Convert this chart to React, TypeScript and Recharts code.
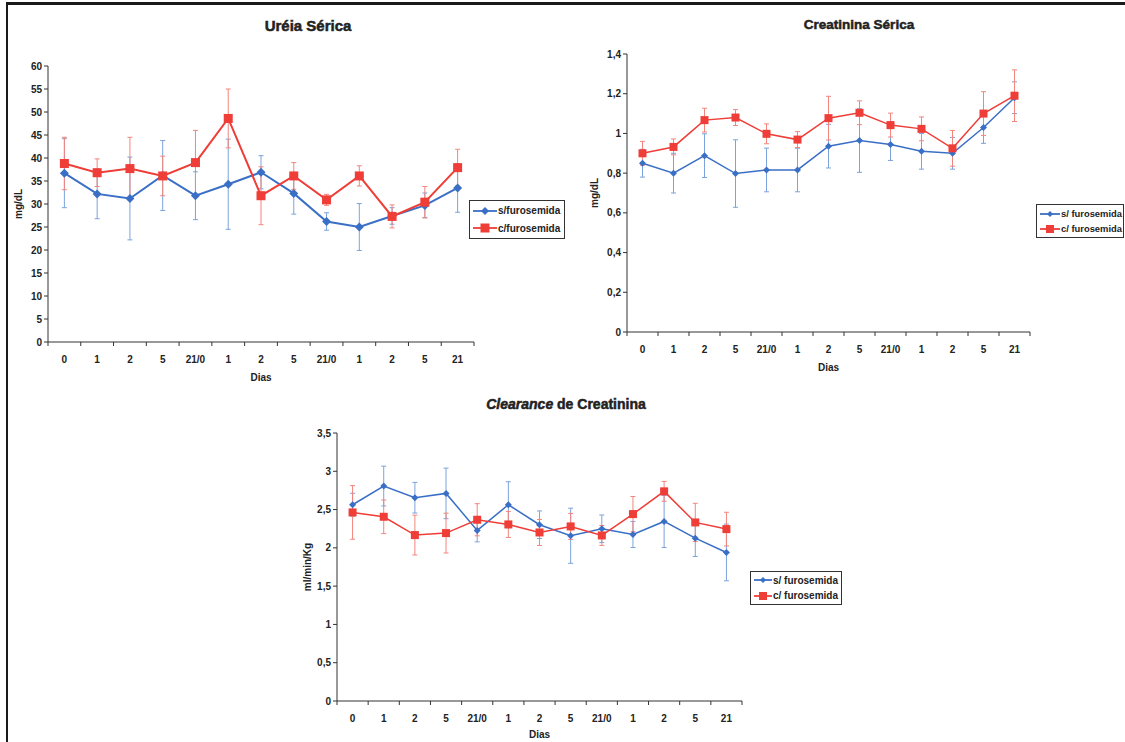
import React from "react";
import { LineChart, Line, XAxis, YAxis, ErrorBar, Legend } from "recharts";

const dias = ["0", "1", "2", "5", "21/0", "1", "2", "5", "21/0", "1", "2", "5", "21"];

// Uréia sérica (mg/dL)
const ureiaSem = [36.7, 32.2, 31.2, 36.2, 31.8, 34.3, 36.9, 32.3, 26.2, 25.0, 27.4, 29.7, 33.5];
const ureiaSemErr = [7.5, 5.4, 9.0, 7.6, 5.2, 9.8, 3.6, 4.5, 1.9, 5.1, 1.8, 2.7, 5.3];
const ureiaCom = [38.8, 36.8, 37.7, 36.1, 39.0, 48.6, 31.8, 36.1, 30.9, 36.1, 27.3, 30.4, 37.9];
const ureiaComErr = [5.7, 3.0, 6.8, 4.3, 7.0, 6.4, 6.3, 2.9, 1.2, 2.2, 2.5, 3.4, 4.0];
const ureiaTicks = [0, 5, 10, 15, 20, 25, 30, 35, 40, 45, 50, 55, 60];

// Creatinina sérica (mg/dL)
const creatSem = [0.85, 0.8, 0.888, 0.798, 0.816, 0.816, 0.936, 0.964, 0.944, 0.91, 0.9, 1.03, 1.18];
const creatSemErr = [0.07, 0.1, 0.11, 0.17, 0.11, 0.11, 0.11, 0.16, 0.08, 0.09, 0.08, 0.08, 0.08];
const creatCom = [0.9, 0.932, 1.067, 1.08, 0.998, 0.969, 1.077, 1.104, 1.042, 1.023, 0.925, 1.1, 1.19];
const creatComErr = [0.06, 0.04, 0.06, 0.04, 0.05, 0.04, 0.11, 0.06, 0.06, 0.06, 0.09, 0.11, 0.13];
const creatTicks = [0, 0.2, 0.4, 0.6, 0.8, 1, 1.2, 1.4];

// Clearance de creatinina (ml/min/Kg)
const clearSem = [2.563, 2.807, 2.655, 2.711, 2.228, 2.563, 2.302, 2.158, 2.249, 2.175, 2.345, 2.127, 1.94];
const clearSemErr = [0.15, 0.26, 0.2, 0.33, 0.15, 0.3, 0.18, 0.36, 0.18, 0.17, 0.34, 0.24, 0.37];
const clearCom = [2.463, 2.406, 2.167, 2.193, 2.367, 2.306, 2.201, 2.28, 2.162, 2.441, 2.738, 2.332, 2.245];
const clearComErr = [0.35, 0.22, 0.26, 0.26, 0.21, 0.17, 0.17, 0.17, 0.13, 0.23, 0.13, 0.25, 0.22];
const clearTicks = [0, 0.5, 1, 1.5, 2, 2.5, 3, 3.5];

const FONT = '"Liberation Sans", Arial, Helvetica, sans-serif';
const BLUE = "#3a6fc6";
const RED = "#ef3d37";
const BLUE_ERR = "#7ba3dc";
const RED_ERR = "#f3857c";
const INK = "#222";

const buildRows = (s: number[], sErr: number[], c: number[], cErr: number[]) =>
  dias.map((dia, i) => ({ dia, s: s[i], sErr: sErr[i], c: c[i], cErr: cErr[i] }));

const fmt = (v: number) => String(v).replace(".", ",");

const diamondPath = (cx: number, cy: number, r: number) =>
  `M${cx},${cy - r} L${cx + r},${cy} L${cx},${cy + r} L${cx - r},${cy} Z`;

function XTick(props: any) {
  const { x, y, payload, index, half, count } = props;
  return (
    <g>
      <line x1={x - half} y1={y} x2={x - half} y2={y + 4} stroke="#333" />
      {index === count - 1 && <line x1={x + half} y1={y} x2={x + half} y2={y + 4} stroke="#333" />}
      <text
        x={x}
        y={y + 17}
        textAnchor="middle"
        dominantBaseline="central"
        fontSize={10}
        fontWeight="bold"
        fill={INK}
        fontFamily={FONT}
      >
        {payload.value}
      </text>
    </g>
  );
}

function YLabel(props: any) {
  const { text, lx, ly } = props;
  return (
    <text
      x={lx}
      y={ly}
      transform={`rotate(-90 ${lx} ${ly})`}
      textAnchor="middle"
      dominantBaseline="central"
      fontSize={10}
      fontWeight="bold"
      fill={INK}
      fontFamily={FONT}
    >
      {text}
    </text>
  );
}

type LegendCfg = {
  sLabel: string;
  cLabel: string;
  rowH: number;
  iconW: number;
  padTop: number;
  padLeft: number;
  padRight: number;
  dR: number;
  sq: number;
  fontSize: number;
};

function LegendBox({ cfg }: { cfg: LegendCfg }) {
  const items = [
    { label: cfg.sLabel, color: BLUE, shape: "d" },
    { label: cfg.cLabel, color: RED, shape: "s" },
  ];
  return (
    <div
      style={{
        border: "1.5px solid #333",
        background: "#fff",
        padding: `${cfg.padTop}px ${cfg.padRight}px ${cfg.padTop}px ${cfg.padLeft}px`,
        fontFamily: FONT,
        fontSize: cfg.fontSize,
        fontWeight: "bold",
        color: INK,
        whiteSpace: "nowrap",
      }}
    >
      {items.map((it) => (
        <div key={it.label} style={{ height: cfg.rowH, display: "flex", alignItems: "center" }}>
          <svg width={cfg.iconW} height={12} style={{ marginRight: 1 }}>
            <line x1={0} y1={6} x2={cfg.iconW} y2={6} stroke={it.color} strokeWidth={1.8} />
            {it.shape === "d" ? (
              <path d={diamondPath(cfg.iconW / 2, 6, cfg.dR)} fill={it.color} />
            ) : (
              <rect x={cfg.iconW / 2 - cfg.sq} y={6 - cfg.sq} width={cfg.sq * 2} height={cfg.sq * 2} fill={it.color} />
            )}
          </svg>
          <span>{it.label}</span>
        </div>
      ))}
    </div>
  );
}

type PanelProps = {
  left: number;
  top: number;
  width: number;
  height: number;
  margin: { top: number; right: number; bottom: number; left: number };
  yWidth: number;
  xHeight: number;
  yMax: number;
  ticks: number[];
  yLabel: string;
  yLabelX: number;
  diasOffset: number;
  rows: any[];
  legendLeft: number;
  legendTop: number;
  legend: LegendCfg;
  lineW: number;
  dR: number;
  sq: number;
};

function Panel(p: PanelProps) {
  const plotW = p.width - p.margin.left - p.margin.right - p.yWidth;
  const plotH = p.height - p.margin.top - p.margin.bottom - p.xHeight;
  const half = plotW / 26;
  return (
    <div style={{ position: "absolute", left: p.left, top: p.top }}>
      <LineChart width={p.width} height={p.height} data={p.rows} margin={p.margin}>
        <XAxis
          dataKey="dia"
          interval={0}
          tickSize={0}
          tickMargin={0}
          tickLine={false}
          height={p.xHeight}
          padding={{ left: half, right: half }}
          stroke="#333"
          tick={<XTick half={half} count={p.rows.length} />}
          label={{
            value: "Dias",
            position: "insideTop",
            offset: p.diasOffset,
            fontSize: 10,
            fontWeight: "bold",
            fill: INK,
            fontFamily: FONT,
          }}
        />
        <YAxis
          domain={[0, p.yMax]}
          ticks={p.ticks}
          interval={0}
          width={p.yWidth}
          tickSize={4}
          tickMargin={2}
          stroke="#333"
          tick={{ fontSize: 10, fontWeight: "bold", fill: INK, fontFamily: FONT }}
          tickFormatter={fmt}
          label={<YLabel text={p.yLabel} lx={p.yLabelX} ly={p.margin.top + plotH / 2} />}
        />
        <Legend
          layout="vertical"
          align="center"
          verticalAlign="middle"
          wrapperStyle={{ left: p.legendLeft, top: p.legendTop, width: "auto" }}
          content={() => <LegendBox cfg={p.legend} />}
        />
        <Line
          dataKey="s"
          name={p.legend.sLabel}
          stroke={BLUE}
          strokeWidth={p.lineW}
          isAnimationActive={false}
          activeDot={false}
          dot={(d: any) => <path key={`s-${d.index}`} d={diamondPath(d.cx, d.cy, p.dR)} fill={BLUE} />}
        >
          <ErrorBar dataKey="sErr" direction="y" width={2.5} stroke={BLUE_ERR} strokeWidth={1} isAnimationActive={false} />
        </Line>
        <Line
          dataKey="c"
          name={p.legend.cLabel}
          stroke={RED}
          strokeWidth={p.lineW}
          isAnimationActive={false}
          activeDot={false}
          dot={(d: any) => (
            <rect key={`c-${d.index}`} x={d.cx - p.sq} y={d.cy - p.sq} width={p.sq * 2} height={p.sq * 2} fill={RED} />
          )}
        >
          <ErrorBar dataKey="cErr" direction="y" width={2.5} stroke={RED_ERR} strokeWidth={1} isAnimationActive={false} />
        </Line>
      </LineChart>
    </div>
  );
}

const titleStyle = (cx: number, cy: number, size: number): React.CSSProperties => ({
  position: "absolute",
  left: cx,
  top: cy,
  transform: "translate(-50%, -50%)",
  fontFamily: FONT,
  fontWeight: "bold",
  fontSize: size,
  color: INK,
  whiteSpace: "nowrap",
  WebkitTextStroke: "0.5px #222",
});

export default function App() {
  return (
    <div
      style={{
        position: "absolute",
        left: 0,
        top: 0,
        width: 1125,
        height: 742,
        overflow: "hidden",
        background: "#fff",
      }}
    >
      <div
        style={{
          position: "absolute",
          left: 6,
          top: 2,
          width: 1200,
          height: 800,
          borderTop: "3px solid #1a1a1a",
          borderLeft: "2px solid #1a1a1a",
        }}
      />

      <div style={titleStyle(308, 25, 15)}>Uréia Sérica</div>
      <Panel
        left={0}
        top={0}
        width={560}
        height={390}
        margin={{ top: 66, right: 86, bottom: 6, left: 0 }}
        yWidth={48}
        xHeight={42}
        yMax={60}
        ticks={ureiaTicks}
        yLabel="mg/dL"
        yLabelX={18}
        diasOffset={32}
        rows={buildRows(ureiaSem, ureiaSemErr, ureiaCom, ureiaComErr)}
        legendLeft={469}
        legendTop={200}
        legend={{ sLabel: "s/furosemida", cLabel: "c/furosemida", rowH: 17.5, iconW: 24, padTop: 1, padLeft: 3, padRight: 4, dR: 4, sq: 4.5, fontSize: 10 }}
        lineW={2}
        dR={4.5}
        sq={4.5}
      />

      <div style={titleStyle(859, 24, 13.5)}>Creatinina Sérica</div>
      <Panel
        left={560}
        top={0}
        width={565}
        height={390}
        margin={{ top: 54, right: 95, bottom: 17, left: 22 }}
        yWidth={45}
        xHeight={41}
        yMax={1.4}
        ticks={creatTicks}
        yLabel="mg/dL"
        yLabelX={34}
        diasOffset={32}
        rows={buildRows(creatSem, creatSemErr, creatCom, creatComErr)}
        legendLeft={476}
        legendTop={204}
        legend={{ sLabel: "s/ furosemida", cLabel: "c/ furosemida", rowH: 15, iconW: 20, padTop: 1, padLeft: 3, padRight: 1, dR: 3, sq: 4, fontSize: 9.4 }}
        lineW={1.5}
        dR={3.5}
        sq={4}
      />

      <div style={titleStyle(566, 404, 14)}>
        <i>Clearance</i> de Creatinina
      </div>
      <Panel
        left={280}
        top={385}
        width={580}
        height={357}
        margin={{ top: 48, right: 118, bottom: 0, left: 7 }}
        yWidth={50}
        xHeight={41}
        yMax={3.5}
        ticks={clearTicks}
        yLabel="ml/min/Kg"
        yLabelX={27}
        diasOffset={30}
        rows={buildRows(clearSem, clearSemErr, clearCom, clearComErr)}
        legendLeft={470}
        legendTop={186}
        legend={{ sLabel: "s/ furosemida", cLabel: "c/ furosemida", rowH: 15.5, iconW: 18, padTop: 0.5, padLeft: 3, padRight: 3, dR: 3, sq: 4, fontSize: 10 }}
        lineW={1.5}
        dR={3.5}
        sq={4}
      />
    </div>
  );
}
